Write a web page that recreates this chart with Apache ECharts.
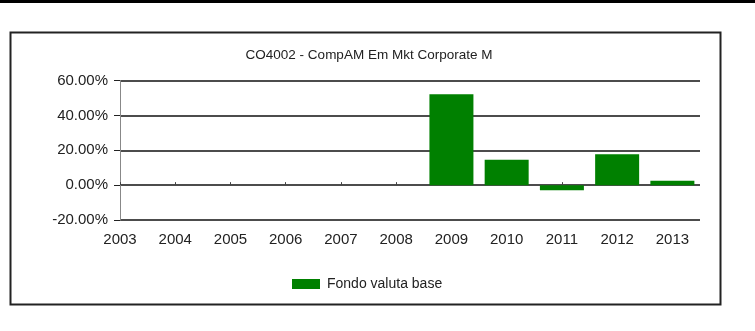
<!DOCTYPE html>
<html>
<head>
<meta charset="utf-8">
<script src="https://cdn.jsdelivr.net/npm/echarts@6/dist/echarts.min.js"></script>
<style>
html,body{margin:0;padding:0;background:#fff;}
#c{width:755px;height:331px;}
</style>
</head>
<body>
<div id="c"></div>
<script>
const titleText = "CO4002 - CompAM Em Mkt Corporate M";
const seriesName = "Fondo valuta base";
const years = [2003, 2004, 2005, 2006, 2007, 2008, 2009, 2010, 2011, 2012, 2013];
const values = [null, null, null, null, null, null, 52.1, 14.5, -2.9, 17.7, 2.5];
const yTicks = [-20, 0, 20, 40, 60];

const chart = echarts.init(document.getElementById('c'), null, {renderer: 'canvas'});
const font = 'Liberation Sans, Arial, sans-serif';
chart.setOption({
  animation: false,
  backgroundColor: '#fff',
  graphic: [
    {type: 'line', shape: {x1: 0, y1: 1.5, x2: 755, y2: 1.5}, style: {stroke: '#000', lineWidth: 3}, z: -1},
    {type: 'rect', shape: {x: 10.5, y: 32.5, width: 710, height: 272}, style: {fill: '#fff', stroke: '#222', lineWidth: 2}, z: -10}
  ],
  title: {
    text: titleText,
    left: 364, top: 43, textAlign: 'center',
    textStyle: {fontFamily: font, fontSize: 13.5, fontWeight: 'normal', color: '#222'}
  },
  legend: {
    data: [seriesName],
    left: 287, top: 272,
    icon: 'rect', itemWidth: 28, itemHeight: 10,
    textStyle: {fontFamily: font, fontSize: 14, color: '#222', padding: [0, 0, 0, 2]}
  },
  grid: {left: 120, right: 55, top: 80.5, bottom: 111, containLabel: false},
  xAxis: {
    type: 'value', min: 2003, max: 2013.5, interval: 1,
    splitLine: {show: false},
    axisLine: {show: false},
    axisTick: {show: true, inside: true, length: 3, lineStyle: {color: '#444'}, customValues: years},
    axisLabel: {customValues: years, fontFamily: font, fontSize: 15, color: '#222', margin: 12,
      formatter: v => String(Math.round(v))}
  },
  yAxis: {
    type: 'value', min: -20, max: 60, interval: 20,
    axisLine: {show: true, lineStyle: {color: '#888', width: 1}},
    axisTick: {show: true, length: 6, lineStyle: {color: '#222'}},
    splitLine: {show: true, lineStyle: {color: '#111', width: 1.5}},
    axisLabel: {fontFamily: font, fontSize: 15, color: '#222', margin: 12,
      formatter: v => v.toFixed(2) + '%'}
  },
  series: [{
    name: seriesName,
    type: 'bar',
    barWidth: 44,
    itemStyle: {color: '#008000'},
    data: years.map((y, i) => [y, values[i]])
  }]
});
</script>
</body>
</html>
